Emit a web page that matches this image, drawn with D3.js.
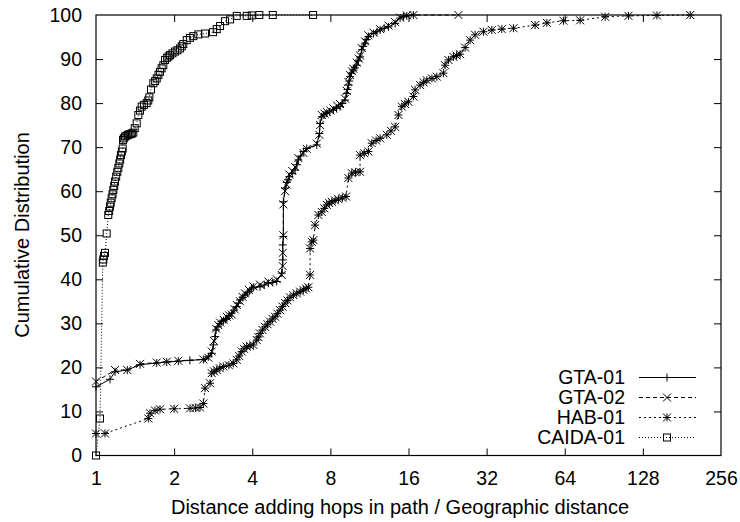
<!DOCTYPE html>
<html>
<head>
<meta charset="utf-8">
<script src="https://cdn.jsdelivr.net/npm/d3@7"></script>
<style>
	body { margin: 0; background: #fff; }
	svg text { font-family: "Liberation Sans", Arial, Helvetica, sans-serif; fill: #000; }
</style>
</head>
<body>
<div id="chart"></div>
<script>
// series data: ratio (x) and cumulative percent (y)
var gta01X = [1.000, 1.132, 1.184, 1.320, 1.478, 1.714, 1.873, 2.076, 2.300, 2.592, 2.709, 2.792, 2.832, 2.880, 2.901, 2.950, 3.006, 3.050, 3.100, 3.150, 3.190, 3.260, 3.335, 3.400, 3.486, 3.540, 3.590, 3.680, 3.752, 3.830, 3.900, 3.970, 4.039, 4.286, 4.450, 4.615, 4.800, 4.972, 5.197, 5.243, 5.243, 5.271, 5.271, 5.352, 5.433, 5.500, 5.560, 5.700, 5.849, 5.950, 6.022, 6.150, 6.296, 6.489, 7.091, 7.256, 7.301, 7.413, 7.550, 7.748, 7.950, 8.216, 8.450, 8.718, 8.900, 9.114, 9.253, 9.320, 9.386, 9.460, 9.527, 9.650, 9.811, 9.950, 10.11, 10.25, 10.41, 10.57, 10.72, 10.89, 11.05, 11.21, 11.72, 12.10, 12.44, 12.90, 13.39, 14.21, 14.85, 15.30, 15.76, 16.71];
var gta01Y = [15.6, 17.3, 19.0, 19.4, 20.6, 21.0, 21.2, 21.4, 21.6, 21.8, 22.4, 23.2, 25.1, 27.0, 28.5, 29.2, 30.0, 30.4, 30.6, 30.9, 31.1, 31.7, 32.3, 33.0, 33.8, 34.6, 35.3, 35.9, 36.4, 36.9, 37.3, 37.8, 38.2, 38.3, 38.7, 39.1, 39.3, 39.5, 41.4, 44.4, 47.8, 49.7, 57.6, 60.7, 62.0, 62.6, 63.3, 64.0, 64.8, 66.0, 67.1, 68.0, 69.0, 69.7, 70.5, 73.1, 75.4, 76.9, 77.3, 77.7, 78.0, 78.4, 78.8, 79.2, 79.9, 80.7, 82.2, 83.1, 84.1, 85.0, 86.0, 86.8, 87.5, 88.0, 88.6, 89.6, 90.5, 92.1, 92.9, 93.6, 94.4, 95.1, 95.8, 96.2, 96.6, 97.0, 97.3, 98.1, 99.3, 99.6, 99.8, 100];

var gta02X = [1.000, 1.184, 1.320, 1.478, 1.714, 1.873, 2.076, 2.592, 2.709, 2.792, 2.850, 2.901, 2.960, 3.006, 3.100, 3.190, 3.260, 3.335, 3.420, 3.486, 3.590, 3.670, 3.752, 3.880, 4.039, 4.286, 4.615, 4.972, 5.197, 5.243, 5.243, 5.271, 5.271, 5.352, 5.433, 5.560, 5.700, 5.849, 6.022, 6.296, 6.489, 7.091, 7.256, 7.301, 7.413, 7.600, 7.748, 8.000, 8.216, 8.500, 8.718, 9.114, 9.253, 9.386, 9.527, 9.700, 9.811, 10.11, 10.30, 10.41, 10.57, 10.89, 11.21, 11.72, 12.44, 13.39, 14.21, 14.85, 15.76, 16.71, 24.91];
var gta02Y = [16.8, 19.4, 19.4, 20.8, 21.1, 21.3, 21.5, 21.8, 22.2, 23.6, 26.0, 28.8, 29.6, 30.2, 30.8, 31.5, 31.8, 32.0, 33.2, 34.2, 35.0, 36.0, 36.8, 37.6, 38.4, 38.8, 39.5, 40.0, 41.0, 43.0, 46.0, 50.0, 57.0, 60.0, 61.5, 63.8, 64.6, 65.5, 67.5, 68.7, 69.6, 70.8, 72.8, 75.0, 77.3, 77.6, 78.0, 78.3, 78.8, 79.4, 79.8, 81.0, 82.8, 84.8, 86.4, 87.2, 87.8, 89.2, 90.1, 90.8, 92.5, 94.0, 95.4, 96.0, 96.8, 97.6, 98.4, 99.4, 99.9, 100, 100];

var hab01X = [1.000, 1.083, 1.591, 1.615, 1.688, 1.765, 2.000, 2.303, 2.420, 2.517, 2.592, 2.631, 2.750, 2.792, 2.850, 2.919, 3.000, 3.095, 3.250, 3.382, 3.486, 3.560, 3.645, 3.720, 3.809, 3.920, 4.039, 4.163, 4.220, 4.286, 4.380, 4.481, 4.580, 4.685, 4.790, 4.897, 5.000, 5.119, 5.230, 5.352, 5.470, 5.595, 5.760, 5.938, 6.120, 6.296, 6.450, 6.582, 6.682, 6.682, 6.783, 6.880, 6.985, 7.193, 7.413, 7.580, 7.748, 7.920, 8.100, 8.340, 8.588, 8.900, 9.196, 9.386, 9.672, 10.00, 10.41, 10.41, 10.80, 11.21, 11.55, 12.00, 12.44, 13.20, 13.70, 14.21, 14.63, 15.08, 15.50, 15.99, 16.71, 16.97, 17.74, 18.30, 18.82, 19.70, 20.57, 21.81, 22.14, 22.80, 23.84, 24.50, 25.29, 26.44, 27.64, 28.89, 31.11, 33.51, 36.62, 40.59, 49.20, 54.61, 63.26, 73.37, 91.59, 112.6, 145.0, 194.8];
var hab01Y = [5.0, 5.0, 8.4, 9.6, 10.2, 10.5, 10.6, 10.7, 10.8, 10.9, 11.8, 15.3, 16.4, 18.7, 19.1, 19.4, 19.8, 20.2, 20.5, 20.9, 21.7, 22.6, 23.6, 24.2, 24.7, 24.9, 25.1, 26.2, 26.9, 27.7, 28.5, 29.2, 29.8, 30.4, 31.0, 31.5, 32.2, 33.0, 33.8, 34.6, 35.2, 35.9, 36.4, 36.8, 37.2, 37.6, 37.9, 38.2, 41.0, 47.0, 48.5, 48.9, 52.3, 54.6, 55.3, 56.1, 56.9, 57.3, 57.6, 57.9, 58.2, 58.5, 58.8, 63.0, 64.1, 64.3, 64.4, 68.2, 68.6, 69.0, 70.9, 71.5, 72.0, 72.8, 73.7, 74.6, 77.3, 79.2, 79.8, 80.3, 81.5, 83.0, 84.1, 84.7, 85.2, 85.6, 86.0, 86.8, 88.6, 89.8, 90.5, 90.8, 91.1, 92.6, 94.3, 95.5, 96.2, 96.6, 96.8, 97.0, 97.7, 98.2, 98.7, 98.8, 99.6, 99.8, 99.9, 100];

var caida01X = [1.000, 1.036, 1.062, 1.067, 1.073, 1.083, 1.0995, 1.115, 1.124, 1.132, 1.140, 1.149, 1.158, 1.166, 1.175, 1.184, 1.196, 1.208, 1.219, 1.230, 1.239, 1.248, 1.258, 1.267, 1.271, 1.280, 1.294, 1.310, 1.329, 1.345, 1.360, 1.375, 1.392, 1.410, 1.435, 1.456, 1.478, 1.500, 1.530, 1.568, 1.590, 1.605, 1.629, 1.663, 1.690, 1.714, 1.740, 1.765, 1.790, 1.817, 1.845, 1.880, 1.905, 1.929, 1.970, 2.016, 2.060, 2.108, 2.140, 2.170, 2.237, 2.300, 2.371, 2.479, 2.631, 2.825, 2.919, 3.006, 3.142, 3.285, 3.486, 3.809, 3.982, 4.260, 4.799, 6.862];
var caida01Y = [0, 8.4, 43.8, 44.5, 45.3, 46.0, 50.4, 54.6, 55.5, 56.5, 57.4, 58.4, 59.3, 60.3, 61.2, 62.2, 63.3, 64.4, 65.3, 66.3, 67.2, 68.2, 69.0, 69.7, 71.6, 72.0, 72.4, 72.6, 72.8, 72.9, 73.0, 73.1, 73.3, 74.3, 75.4, 77.3, 78.3, 79.2, 79.6, 80.0, 80.6, 81.3, 83.1, 84.5, 85.0, 85.6, 86.4, 87.1, 87.9, 88.6, 89.8, 90.3, 90.6, 90.9, 91.3, 91.7, 92.0, 92.4, 92.9, 93.4, 94.3, 94.8, 95.2, 95.6, 95.8, 96.1, 96.8, 97.5, 98.6, 99.0, 99.8, 99.8, 99.9, 100, 100, 100];

var seriesNames = ['GTA-01', 'GTA-02', 'HAB-01', 'CAIDA-01'];
var xTicks = [1, 2, 4, 8, 16, 32, 64, 128, 256];
var yTicks = [0, 10, 20, 30, 40, 50, 60, 70, 80, 90, 100];
var xTitle = 'Distance adding hops in path / Geographic distance';
var yTitle = 'Cumulative Distribution';

(function() {
	var width = 740, height = 522;
	var margin = { top: 15, right: 19, bottom: 66.5, left: 96 };
	var plotW = width - margin.left - margin.right;
	var plotH = height - margin.top - margin.bottom;

	var svg = d3.select('#chart').append('svg')
		.attr('width', width)
		.attr('height', height);

	var x = d3.scaleLog().base(2).domain([1, 256]).range([0, plotW]);
	var y = d3.scaleLinear().domain([0, 100]).range([plotH, 0]);

	var g = svg.append('g')
		.attr('transform', 'translate(' + margin.left + ',' + margin.top + ')');

	// axes with inward ticks, mirrored on top / right
	//- - - - - - - - - - - - - - - - - - - - - -
	var tickLen = 7;
	var bottomAxis = d3.axisBottom(x).tickValues(xTicks).tickFormat(d3.format('d'))
		.tickSizeInner(-tickLen).tickSizeOuter(0).tickPadding(16);
	var leftAxis = d3.axisLeft(y).tickValues(yTicks)
		.tickSizeInner(-tickLen).tickSizeOuter(0).tickPadding(14);
	var topAxis = d3.axisTop(x).tickValues(xTicks.slice(1, -1)).tickFormat('')
		.tickSizeInner(-tickLen).tickSizeOuter(0);
	var rightAxis = d3.axisRight(y).tickValues(yTicks.slice(1, -1)).tickFormat('')
		.tickSizeInner(-tickLen).tickSizeOuter(0);

	var bx = g.append('g').attr('transform', 'translate(0,' + plotH + ')').call(bottomAxis);
	var ly = g.append('g').call(leftAxis);
	g.append('g').call(topAxis);
	g.append('g').attr('transform', 'translate(' + plotW + ',0)').call(rightAxis);

	g.selectAll('.domain').remove();
	g.selectAll('.tick line').attr('stroke', '#000').attr('stroke-width', 1);
	bx.selectAll('.tick').filter(function(d) { return d === 1 || d === 256; }).select('line').remove();
	ly.selectAll('.tick').filter(function(d) { return d === 0 || d === 100; }).select('line').remove();
	g.selectAll('.tick text').attr('font-size', '19.5px')
		.style('font-family', '"Liberation Sans", Arial, sans-serif');

	g.append('rect')
		.attr('x', 0).attr('y', 0)
		.attr('width', plotW).attr('height', plotH)
		.attr('fill', 'none').attr('stroke', '#000').attr('stroke-width', 1.2);

	// axis titles
	//- - - - - - - - - - - - - - - - - - - - - -
	svg.append('text')
		.attr('x', 400).attr('y', 514)
		.attr('text-anchor', 'middle')
		.attr('font-size', '20px')
		.text(xTitle);

	svg.append('text')
		.attr('transform', 'translate(29,235) rotate(-90)')
		.attr('text-anchor', 'middle')
		.attr('font-size', '20px')
		.text(yTitle);

	// markers
	//- - - - - - - - - - - - - - - - - - - - - -
	var r = 4;
	var markPlus = function(sel) {
		sel.append('path').attr('d', 'M' + (-r) + ',0H' + r + 'M0,' + (-r) + 'V' + r);
	};
	var markCross = function(sel) {
		sel.append('path').attr('d', 'M' + (-r) + ',' + (-r) + 'L' + r + ',' + r + 'M' + (-r) + ',' + r + 'L' + r + ',' + (-r));
	};
	var markStar = function(sel) { markPlus(sel); markCross(sel); };
	var markBox = function(sel) {
		sel.append('rect').attr('x', -3.5).attr('y', -3.5).attr('width', 7).attr('height', 7).attr('fill', 'none');
	};

	var series = [
		{ name: seriesNames[0], xs: gta01X, ys: gta01Y, dash: null, mark: markPlus },
		{ name: seriesNames[1], xs: gta02X, ys: gta02Y, dash: '4,3', mark: markCross },
		{ name: seriesNames[2], xs: hab01X, ys: hab01Y, dash: '2,3', mark: markStar },
		{ name: seriesNames[3], xs: caida01X, ys: caida01Y, dash: '1,2', mark: markBox }
	];

	var line = d3.line()
		.x(function(d) { return x(d[0]); })
		.y(function(d) { return y(d[1]); });

	series.forEach(function(s) {
		var pts = s.xs.map(function(v, i) { return [v, s.ys[i]]; });

		g.append('path')
			.datum(pts)
			.attr('d', line)
			.attr('fill', 'none')
			.attr('stroke', '#000')
			.attr('stroke-width', 1)
			.attr('stroke-dasharray', s.dash);

		g.append('g').selectAll('g')
			.data(pts)
			.enter()
			.append('g')
			.attr('transform', function(d) { return 'translate(' + x(d[0]) + ',' + y(d[1]) + ')'; })
			.attr('stroke', '#000')
			.attr('stroke-width', 1)
			.attr('fill', 'none')
			.each(function() { s.mark(d3.select(this)); });
	});

	// legend, bottom right
	//- - - - - - - - - - - - - - - - - - - - - -
	var legend = svg.append('g');
	series.forEach(function(s, i) {
		var cy = 377.5 + i * 20;
		legend.append('text')
			.attr('x', 625).attr('y', cy)
			.attr('dy', '0.35em')
			.attr('text-anchor', 'end')
			.attr('font-size', '19.5px')
			.text(s.name);
		legend.append('line')
			.attr('x1', 639).attr('x2', 696)
			.attr('y1', cy).attr('y2', cy)
			.attr('stroke', '#000')
			.attr('stroke-width', 1)
			.attr('stroke-dasharray', s.dash);
		var m = legend.append('g')
			.attr('transform', 'translate(667,' + cy + ')')
			.attr('stroke', '#000')
			.attr('fill', 'none');
		s.mark(m);
	});
})();
</script>
</body>
</html>
